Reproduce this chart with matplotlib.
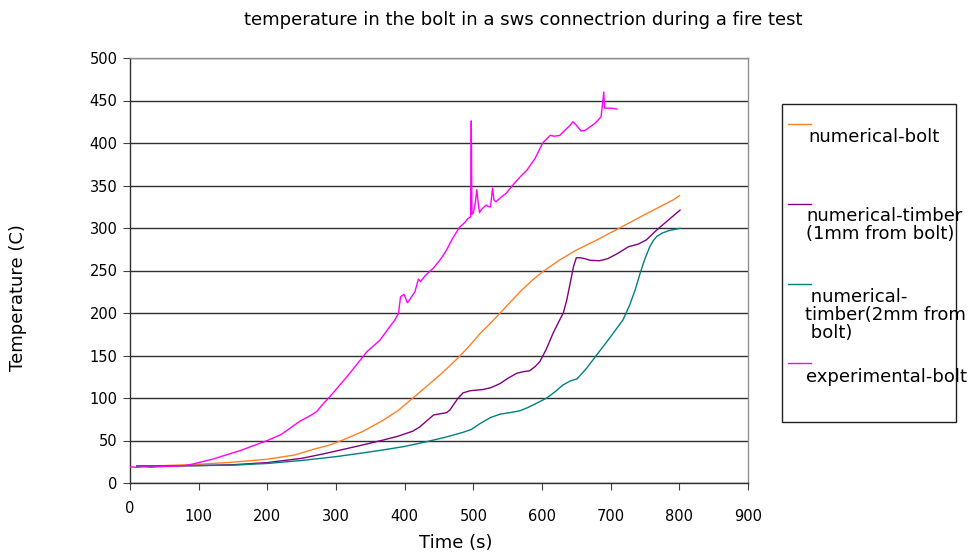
import matplotlib
matplotlib.use("Agg")
import matplotlib.pyplot as plt
import matplotlib.transforms as mtransforms
from matplotlib.lines import Line2D
from matplotlib.patches import Rectangle

# ---------------- data ----------------
exp_t = [0, 10, 20, 30, 40, 50, 60, 70, 80, 90, 100, 120, 140, 160, 180, 200, 220, 248, 260, 272,
         280, 291, 300, 320, 345, 364, 379, 385, 391, 394, 399, 404, 410, 415, 420, 423, 430,
         442, 452, 461, 470, 480, 487, 492, 496, 497, 498, 500, 503, 505, 507, 509, 512, 516, 519,
         522, 525, 528, 530, 533, 540, 548, 558, 568, 578, 590, 601, 606, 612, 618, 626, 632, 640, 645,
         650, 657, 663, 670, 677, 684, 686, 688, 690, 691, 695, 700, 709]
exp_T = [19, 18.5, 19, 18.5, 19, 19.5, 19.5, 20, 20.5, 22, 24, 28, 33, 38, 44, 50, 57, 73, 78, 84,
         92, 101.5, 110, 129, 154.5, 168, 184.7, 191, 199.6, 219, 222, 212, 219, 225, 240, 237, 244,
         253, 263, 274, 288, 301, 306, 311, 313, 426, 316, 318, 330, 345, 330, 318, 322, 325, 327,
         325, 325, 347, 333, 331, 336, 341, 351, 360, 368, 382, 400, 404, 409, 408, 409, 414, 420, 425,
         421, 414, 415, 419, 423, 429, 431, 445, 460, 441, 441, 441, 440]

bolt_t = [10, 50, 100, 150, 200, 240, 267, 290, 310, 340, 369, 390, 412, 431, 451, 466, 480, 495, 510,
          525, 539, 553, 568, 585, 600, 625, 650, 680, 713, 750, 791, 800]
bolt_T = [20, 20.5, 22, 24.5, 28, 33, 39.6, 44.5, 50.6, 61, 74, 85, 100, 113, 127, 138, 149, 162, 176,
          188, 200, 212, 225, 238, 248, 262, 274, 286, 300, 316, 333, 338]

t1_t = [10, 50, 100, 150, 200, 250, 280, 311, 340, 369, 390, 412, 422, 432, 442, 452, 461, 466, 471,
        478, 485, 495, 514, 525, 539, 550, 563, 573, 582, 590, 597, 606, 616, 624, 631, 636, 641, 646,
        650, 656, 662, 670, 684, 696, 710, 726, 740, 752, 767, 785, 801]
t1_T = [20, 20, 20.5, 21.5, 24, 29, 34, 39.6, 45, 50.6, 55, 61, 66, 73, 80, 81.5, 82.7, 86, 92,
        100, 106, 108.5, 110, 112, 117, 123, 129, 131, 132, 137, 143, 157, 176, 189, 200, 215, 235, 255,
        265, 265, 264, 262, 261.5, 264, 270, 278, 281, 286, 297.6, 310, 321]

t2_t = [10, 50, 100, 150, 200, 250, 300, 340, 374, 400, 432, 460, 485, 497, 510, 525, 539, 555, 568,
        580, 595, 607, 620, 630, 641, 651, 665, 680, 698, 718, 728, 736, 743, 750, 757, 762, 767, 775,
        785, 801]
t2_T = [20, 20, 20.5, 21, 23, 26.5, 31, 35.5, 39.6, 43, 48.6, 54, 59.6, 63, 70, 77, 81, 83, 85,
        89, 95, 100, 108, 115, 120, 122.5, 135, 151, 170, 192, 210, 228, 247, 264, 278, 285, 290, 294,
        297, 299.6]

x_ticks = [0, 100, 200, 300, 400, 500, 600, 700, 800, 900]
y_ticks = [0, 50, 100, 150, 200, 250, 300, 350, 400, 450, 500]

series_labels = ["numerical-bolt", "numerical-timber\n(1mm from bolt)",
                 " numerical-\ntimber(2mm from\n bolt)", "experimental-bolt"]
colors = ["#ff7f27", "#800080", "#008080", "#ff00ff"]

# ---------------- figure ----------------
W, H = 972, 555
fig = plt.figure(figsize=(W / 100, H / 100), dpi=100)
ax = fig.add_axes([130 / W, 1 - 483 / H, (748 - 130) / W, (483 - 58) / H])

ax.plot(bolt_t, bolt_T, color=colors[0], lw=1.0, zorder=3)
ax.plot(t1_t, t1_T, color=colors[1], lw=1.0, zorder=3)
ax.plot(t2_t, t2_T, color=colors[2], lw=1.0, zorder=3)
ax.plot(exp_t, exp_T, color=colors[3], lw=1.0, zorder=4)

ax.set_xlim(0, 900)
ax.set_ylim(0, 500)
ax.set_xticks(x_ticks)
ax.set_yticks(y_ticks)
ax.set_xticklabels([str(v) for v in x_ticks])
ax.set_yticklabels([str(v) for v in y_ticks])
ax.tick_params(axis="x", direction="out", length=5, pad=14, labelsize=10.5, color="#404040")
ax.tick_params(axis="y", direction="out", length=5, pad=4, labelsize=10.5, color="#404040")
# the '0' x label sits higher in the original
lbl0 = ax.get_xticklabels()[0]
lbl0.set_transform(lbl0.get_transform() + mtransforms.ScaledTranslation(0, 6 / 72, fig.dpi_scale_trans))

ax.yaxis.grid(True, color="#303030", lw=1.0)
ax.set_axisbelow(True)
for s in ["left", "bottom"]:
    ax.spines[s].set_color("#303030")
    ax.spines[s].set_linewidth(1.0)
for s in ["top", "right"]:
    ax.spines[s].set_color("#909090")
    ax.spines[s].set_linewidth(1.0)

fig.text(523 / W, 1 - 20 / H, "temperature in the bolt in a sws connectrion during a fire test",
         ha="center", va="center", fontsize=13)
fig.text(456 / W, 1 - 543 / H, "Time (s)", ha="center", va="center", fontsize=13)
fig.text(18 / W, 1 - 298 / H, "Temperature (C)", ha="center", va="center", fontsize=13,
         rotation=90)

# legend box (drawn manually to match layout)
fig.patches.append(Rectangle((782 / W, 1 - 422 / H), (956 - 782) / W, (422 - 104) / H,
                             transform=fig.transFigure, facecolor="white", edgecolor="#202020",
                             lw=1.0, zorder=1))
handle_y = [124, 204, 284, 363]
text_y = [137, 225, 315, 377]
text_x = [808, 806, 805, 806]
for i in range(4):
    fig.lines.append(Line2D([788 / W, 811 / W], [1 - handle_y[i] / H, 1 - handle_y[i] / H],
                            transform=fig.transFigure, color=colors[i], lw=1.0, zorder=2))
    fig.text(text_x[i] / W, 1 - text_y[i] / H, series_labels[i], ha="left", va="center",
             fontsize=13, linespacing=1.0, zorder=3)

fig.savefig("out.png", dpi=100)
